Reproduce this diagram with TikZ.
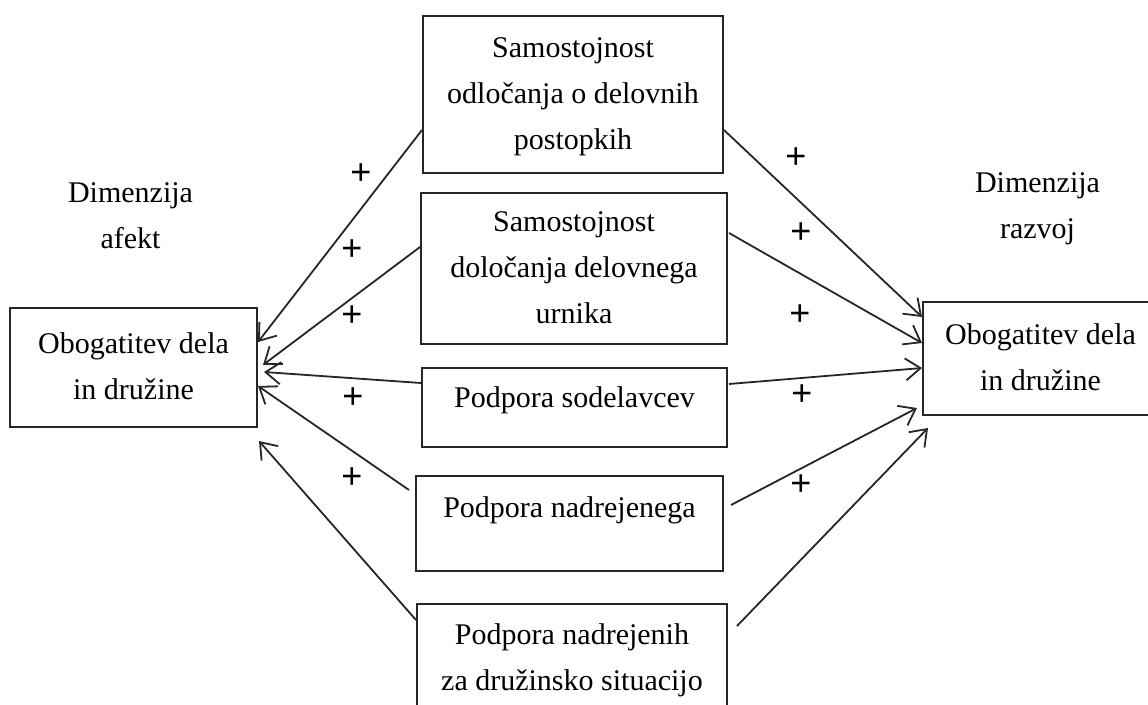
\documentclass[tikz,border=0pt]{standalone}
\usepackage{fontspec}
\setmainfont{Liberation Serif}
\setsansfont{Liberation Sans}
\usetikzlibrary{arrows.meta}
\begin{document}
\begin{tikzpicture}[x=1pt,y=-1pt,
  box/.style={draw=black!85, line width=2pt, inner sep=0pt, align=center,
    text=black, font=\fontsize{30}{46}\selectfont},
  txt/.style={align=center, inner sep=0pt, text=black, font=\fontsize{30}{46}\selectfont},
  sign/.style={inner sep=0pt, text=black, font=\sffamily\fontsize{36}{40}\selectfont},
  link/.style={draw=black!85, line width=1.8pt, -{Straight Barb[length=15pt,width=22pt]}}]
\useasboundingbox (0,0) rectangle (1148,704);

% outcome boxes
\node[box, minimum width=247pt, minimum height=119pt] (L) at (133.5,367.5)
  {\strut Obogatitev dela\\ in družine\strut};
\node[box, minimum width=235pt, minimum height=113pt] (R) at (1040.5,358.5)
  {\strut Obogatitev dela\\ in družine\strut};

% dimension captions
\node[txt] (dl) at (130.5,216.3) {\strut Dimenzija\\ afekt\strut};
\node[txt] (dr) at (1037.5,206.3) {\strut Dimenzija\\ razvoj\strut};

% predictor boxes
\node[box, minimum width=300pt, minimum height=157pt] (b1) at (573,94.5)
  {\strut Samostojnost\\ odločanja o delovnih\\ postopkih\strut};
\node[box, minimum width=306pt, minimum height=151pt] (b2) at (574,268.5)
  {\strut Samostojnost\\ določanja delovnega\\ urnika\strut};
\node[box, minimum width=305pt, text height=39pt, text depth=40pt] (b3) at (574.5,407.5)
  {Podpora sodelavcev};
\node[box, minimum width=307pt, text height=41pt, text depth=54pt] (b4) at (569.5,523.5)
  {Podpora nadrejenega};
\node[box, anchor=north, minimum width=310pt, inner ysep=7.8pt] (b5) at (572,603)
  {\strut Podpora nadrejenih\\ za družinsko situacijo\strut};

% links to the affect dimension
\draw[link] ([yshift=-35.5pt]b1.west) -- ([yshift=25.5pt]L.east);
\draw[link] ([yshift=21.5pt]b2.west) -- ([xshift=5pt,yshift=2.5pt]L.east);
\draw[link] ([yshift=24.5pt]b3.west) -- ([xshift=6pt,yshift=-4.5pt]L.east);
\draw[link] ([xshift=-6pt,yshift=33.5pt]b4.west) -- ([yshift=-18.5pt]L.east);
\draw[link] ([yshift=-17pt]b5.north west) -- ([xshift=1pt,yshift=-13pt]L.south east);

% links to the development dimension
\draw[link] ([yshift=-35.5pt]b1.east) -- ([yshift=41.5pt]R.west);
\draw[link] ([xshift=1pt,yshift=35.5pt]b2.east) -- ([yshift=15.5pt]R.west);
\draw[link] ([xshift=1pt,yshift=23.5pt]b3.east) -- ([yshift=-9.5pt]R.west);
\draw[link] ([xshift=7pt,yshift=18.5pt]b4.east) -- ([xshift=-5pt,yshift=-49.5pt]R.west);
\draw[link] ([xshift=9pt,yshift=-23pt]b5.north east) -- ([xshift=6pt,yshift=-12pt]R.south west);

% signs
\node[sign] (p1) at (361,174) {+};
\node[sign] (p2) at (352,250) {+};
\node[sign] (p3) at (352,316) {+};
\node[sign] (p4) at (353,398) {+};
\node[sign] (p5) at (352,478) {+};
\node[sign] (q1) at (796,158) {+};
\node[sign] (q2) at (801,233) {+};
\node[sign] (q3) at (800,315) {+};
\node[sign] (q4) at (802,395) {+};
\node[sign] (q5) at (801,485) {+};
\end{tikzpicture}
\end{document}
